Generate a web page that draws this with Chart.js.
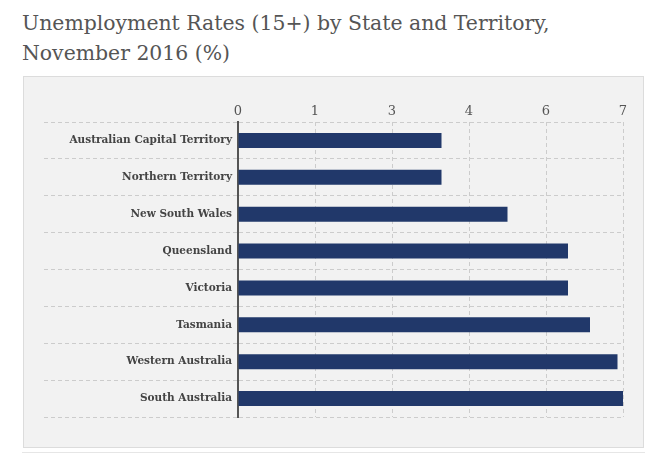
<!DOCTYPE html>
<html>
<head>
<meta charset="utf-8">
<script src="https://cdn.jsdelivr.net/npm/chart.js@4"></script>
<style>
  body { margin: 0; background: #fff; width: 653px; height: 453px; overflow: hidden; position: relative; }
  #title {
    position: absolute; left: 22px; top: 8px;
    font-family: "DejaVu Serif", serif; font-size: 20.4px; line-height: 30px;
    color: #555; font-weight: normal;
  }
  #panel {
    position: absolute; left: 23px; top: 76px; width: 621px; height: 372px;
    box-sizing: border-box; background: #f2f2f2; border: 1px solid #dcdcdc;
  }
  #next { position: absolute; left: 22px; top: 452px; width: 623px; border-top: 1px solid #e6e6e6; }
  #wrap { position: absolute; left: 23px; top: 76px; width: 621px; height: 372px; }
</style>
</head>
<body>
<div id="title">Unemployment Rates (15+) by State and Territory,<br>November 2016 (%)</div>
<div id="panel"></div>
<div id="next"></div>
<div id="wrap"><canvas id="myChart"></canvas></div>
<script>
// States and territories, top to bottom
const states = [
    'Australian Capital Territory',
    'Northern Territory',
    'New South Wales',
    'Queensland',
    'Victoria',
    'Tasmania',
    'Western Australia',
    'South Australia'
];

// Unemployment rate (%)
const rates = [3.7, 3.7, 4.9, 6.0, 6.0, 6.4, 6.9, 7.0];

// Tick labels as shown on the axis (ticks at 0, 1.4, 2.8 ... 7)
const tickLabels = ['0', '1', '3', '4', '6', '7'];

const gridColor = '#cccccc';

const myChart = document.getElementById('myChart');

let barChart = new Chart(myChart, {
    type: 'bar',
    data: {
        labels: states,
        datasets: [{
            label: 'Unemployment rate',
            data: rates,
            backgroundColor: '#21386a',
            borderWidth: 0,
            barPercentage: 0.41,
            categoryPercentage: 1
        }]
    },
    options: {
        indexAxis: 'y',
        responsive: true,
        maintainAspectRatio: false,
        animation: false,
        layout: {
            padding: { top: 0, right: 21, bottom: 31, left: 0 }
        },
        scales: {
            x: {
                position: 'top',
                min: 0,
                max: 7,
                afterFit: scale => { scale.height = 46; },
                ticks: {
                    count: 6,
                    padding: 3,
                    color: '#555',
                    font: { family: 'DejaVu Serif', size: 13 },
                    callback: (value, index) => tickLabels[index]
                },
                grid: {
                    color: gridColor,
                    drawTicks: false
                },
                // in v4 the grid line dash is read from border.dash
                border: { display: false, dash: [4, 3] }
            },
            y: {
                afterFit: scale => { scale.width = 215; },
                ticks: {
                    padding: -188,
                    color: '#444',
                    font: { family: 'DejaVu Serif', size: 10.5, weight: 'bold' }
                },
                grid: {
                    color: gridColor,
                    tickBorderDash: [4, 3],
                    tickColor: gridColor,
                    tickLength: 194,
                    drawTicks: true
                },
                border: { display: true, color: '#555', width: 2, dash: [4, 3] }
            }
        },
        plugins: {
            legend: { display: false },
            tooltip: { enabled: false }
        }
    }
});
</script>
</body>
</html>
